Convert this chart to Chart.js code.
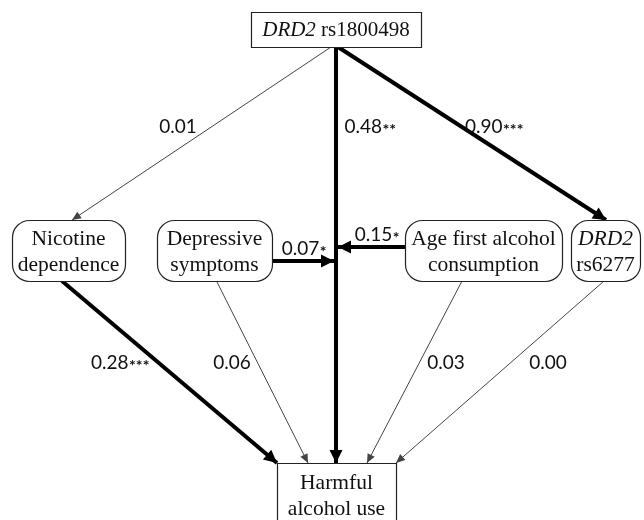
<!DOCTYPE html>
<html>
<head>
<meta charset="utf-8">
<script src="https://cdn.jsdelivr.net/npm/chart.js@4.4.1/dist/chart.umd.min.js"></script>
<style>
  html, body { margin: 0; padding: 0; background: #fff; }
  #wrap { width: 644px; height: 520px; }
</style>
</head>
<body>
<div id="wrap"><canvas id="diagram" width="644" height="520"></canvas></div>
<script>
// path model data
const pathFrom  = ['rs1800498', 'rs1800498', 'rs1800498', 'depressive', 'ageFirst', 'nicotine', 'depressive', 'ageFirst', 'rs6277'];
const pathTo    = ['nicotine', 'harmful', 'rs6277', 'directPath', 'directPath', 'harmful', 'harmful', 'harmful', 'harmful'];
const pathCoef  = [0.01, 0.48, 0.90, 0.07, 0.15, 0.28, 0.06, 0.03, 0.00];
const pathStars = ['', '**', '***', '*', '*', '***', '', '', ''];

// variable boxes (text lines, italic parts marked with _)
const nodeKeys  = ['rs1800498', 'nicotine', 'depressive', 'ageFirst', 'rs6277', 'harmful'];
const nodeLines = [
  [['_DRD2', ' rs1800498']],
  [['Nicotine'], ['dependence']],
  [['Depressive'], ['symptoms']],
  [['Age first alcohol'], ['consumption']],
  [['_DRD2'], ['rs6277']],
  [['Harmful'], ['alcohol use']]
];

// layout (value space = canvas px, y downwards)
const nodeBox = {
  rs1800498:  { x0: 251, x1: 421, y0: 12,  y1: 47,  r: 0 },
  nicotine:   { x0: 12,  x1: 125, y0: 220, y1: 281, r: 17 },
  depressive: { x0: 157, x1: 272, y0: 220, y1: 281, r: 17 },
  ageFirst:   { x0: 405, x1: 562, y0: 220, y1: 281, r: 17 },
  rs6277:     { x0: 571, x1: 640, y0: 220, y1: 281, r: 17 },
  harmful:    { x0: 277, x1: 396, y0: 463, y1: 535, r: 0 }
};
const pathEnds = [
  [[331, 47], [72, 220]],
  [[336, 47], [336, 463]],
  [[338, 47], [606, 220]],
  [[272, 261], [334, 261]],
  [[405, 247], [338, 247]],
  [[62, 281], [277, 463]],
  [[217, 282], [308, 463]],
  [[462, 281], [367, 463]],
  [[604, 281], [396, 463]]
];
const labelPos = [[178, 127], [370, 127], [494, 127], [304, 249], [377, 235], [120, 363], [232, 363], [446, 363], [548, 363]];

const serif = '"Liberation Serif", "DejaVu Serif", serif';
const sans = 'Lato, "Open Sans", sans-serif';

const datasets = pathCoef.map((c, i) => {
  const strong = pathStars[i] !== '';
  return {
    label: pathFrom[i] + ' -> ' + pathTo[i],
    data: pathEnds[i].map(p => ({ x: p[0], y: p[1] })),
    showLine: true,
    borderColor: strong ? '#000' : '#444',
    borderWidth: strong ? 4 : 1,
    pointRadius: 0,
    clip: false,
    coef: c,
    stars: pathStars[i]
  };
});

const diagramPlugin = {
  id: 'diagram',
  afterDatasetsDraw(chart) {
    const ctx = chart.ctx;
    const sx = chart.scales.x, sy = chart.scales.y;
    ctx.save();

    // arrow heads and coefficient labels
    chart.data.datasets.forEach((ds, i) => {
      const pts = chart.getDatasetMeta(i).data;
      const a = pts[0], b = pts[1];
      const ang = Math.atan2(b.y - a.y, b.x - a.x);
      const strong = ds.borderWidth > 1;
      const len = strong ? 13 : 9, hw = strong ? 6.5 : 4;
      ctx.fillStyle = ds.borderColor;
      ctx.beginPath();
      ctx.moveTo(b.x, b.y);
      ctx.lineTo(b.x - len * Math.cos(ang) + hw * Math.sin(ang), b.y - len * Math.sin(ang) - hw * Math.cos(ang));
      ctx.lineTo(b.x - len * Math.cos(ang) - hw * Math.sin(ang), b.y - len * Math.sin(ang) + hw * Math.cos(ang));
      ctx.closePath();
      ctx.fill();

      const txt = ds.coef.toFixed(2);
      const starFont = 'bold 16px ' + sans;
      ctx.font = '19px ' + sans;
      const w1 = ctx.measureText(txt).width;
      ctx.font = starFont;
      const w2 = ctx.measureText(ds.stars).width;
      const lx = sx.getPixelForValue(labelPos[i][0]) - (w1 + w2) / 2;
      const ly = sy.getPixelForValue(labelPos[i][1]);
      ctx.fillStyle = '#111';
      ctx.textBaseline = 'middle';
      ctx.textAlign = 'left';
      ctx.font = '19px ' + sans;
      ctx.fillText(txt, lx, ly);
      ctx.font = starFont;
      ctx.fillText(ds.stars, lx + w1 + 0.5, ly + 3);
    });

    // variable boxes
    nodeKeys.forEach((k, n) => {
      const bx = nodeBox[k];
      const x0 = sx.getPixelForValue(bx.x0), x1 = sx.getPixelForValue(bx.x1);
      const y0 = sy.getPixelForValue(bx.y0), y1 = sy.getPixelForValue(bx.y1);
      ctx.beginPath();
      ctx.roundRect(x0 + 0.5, y0 + 0.5, x1 - x0, y1 - y0, bx.r);
      ctx.fillStyle = '#fff';
      ctx.fill();
      ctx.strokeStyle = '#222';
      ctx.lineWidth = 1.2;
      ctx.stroke();

      const lines = nodeLines[n];
      const cx = (x0 + x1) / 2;
      const top = k === 'harmful' ? y0 + 20 : (k === 'rs1800498' ? y0 + 18 : y0 + 19);
      const size = k === 'rs1800498' ? 21 : 21.5;
      lines.forEach((parts, li) => {
        const fonts = parts.map(p => (p[0] === '_' ? 'italic ' : '') + size + 'px ' + serif);
        const texts = parts.map(p => p.replace(/^_/, ''));
        let total = 0;
        const widths = texts.map((t, j) => { ctx.font = fonts[j]; const w = ctx.measureText(t).width; total += w; return w; });
        let x = cx - total / 2;
        ctx.fillStyle = '#111';
        ctx.textAlign = 'left';
        ctx.textBaseline = 'middle';
        texts.forEach((t, j) => {
          ctx.font = fonts[j];
          ctx.fillText(t, x, top + li * 26);
          x += widths[j];
        });
      });
    });
    ctx.restore();
  }
};

new Chart(document.getElementById('diagram'), {
  type: 'scatter',
  data: { datasets },
  options: {
    responsive: false,
    animation: false,
    layout: { padding: 0 },
    plugins: { legend: { display: false }, tooltip: { enabled: false } },
    scales: {
      x: { type: 'linear', min: 0, max: 644, display: false },
      y: { type: 'linear', min: 0, max: 520, reverse: true, display: false }
    }
  },
  plugins: [diagramPlugin]
});
</script>
</body>
</html>
